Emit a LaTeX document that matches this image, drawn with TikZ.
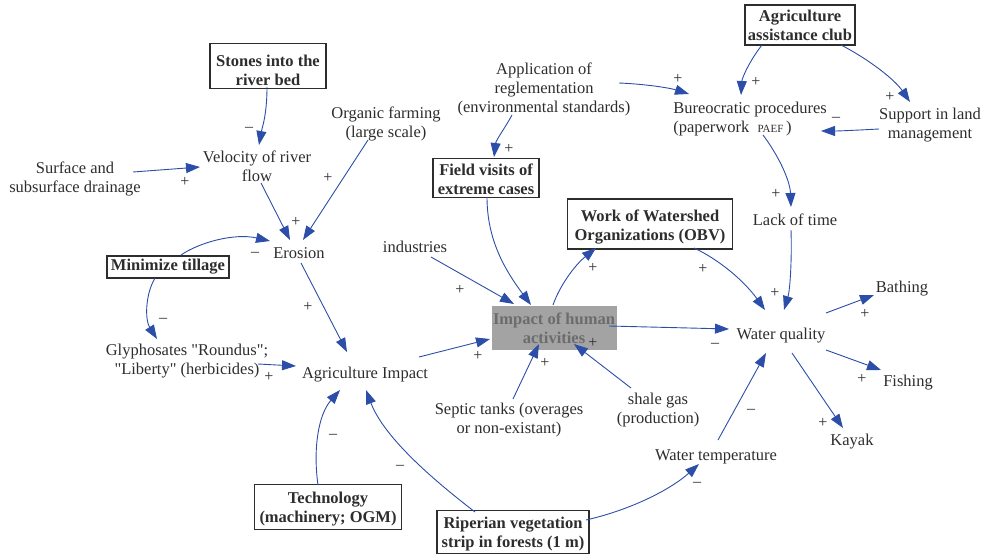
\documentclass[tikz,border=0pt]{standalone}
\usepackage{fontspec}
\setmainfont{Liberation Serif}
\usetikzlibrary{arrows.meta}
\definecolor{linkblue}{RGB}{44,78,168}
\definecolor{ink}{RGB}{45,45,45}
\definecolor{hubfill}{RGB}{163,163,163}
\definecolor{hubtext}{RGB}{108,108,108}
\begin{document}
\begin{tikzpicture}[x=1pt,y=-1pt,
  lbl/.style={align=center, text=ink, inner sep=0pt, font=\fontsize{16.5}{19}\selectfont},
  box/.style={draw=ink, line width=1.1pt, align=center, text=ink, inner sep=2pt,
              font=\fontsize{16.5}{19}\selectfont\bfseries},
  hub/.style={fill=hubfill, align=center, text=hubtext, inner sep=1pt,
              minimum width=125pt, minimum height=44pt,
              font=\fontsize{16.5}{19}\selectfont\bfseries},
  link/.style={draw=linkblue, line width=0.9pt, -{Triangle[length=14pt,width=10pt]}},
  sgn/.style={text=ink, inner sep=0pt, font=\fontsize{16}{16}\selectfont}]
\useasboundingbox (0,0) rectangle (993,554);

% ---- boxed drivers (the struts push the two lines slightly below the box centre) ----
\node[box, minimum width=116pt, minimum height=42pt] (stones) at (268,66) {\rule{0pt}{21pt}Stones into the\\river bed};
\node[box, minimum width=122pt, minimum height=22pt] (mini) at (168,267) {Minimize tillage};
\node[box, minimum width=147pt, minimum height=45pt] (tech) at (328,507) {\rule{0pt}{16pt}Technology\\(machinery; OGM)};
\node[box, minimum width=152pt, minimum height=40pt] (rip) at (513,532) {\rule{0pt}{16pt}Riperian vegetation\\strip in forests (1 m)};
\node[box, minimum width=106pt, minimum height=39pt] (field) at (486,178) {\rule{0pt}{15pt}Field visits of\\extreme cases};
\node[box, minimum width=165pt, minimum height=50pt] (work) at (650,224) {\rule{0pt}{17pt}Work of Watershed\\Organizations (OBV)};
\node[box, minimum width=110pt, minimum height=40pt] (club) at (800,25) {Agriculture\\assistance club};
\node[hub] (impact) at (554,328) {Impact of human\\activities};

% ---- variables ----
\node[lbl] (surf) at (75,179) {Surface and\\subsurface drainage};
\node[lbl] (vel) at (257,166) {Velocity of river\\flow};
\node[lbl] (org) at (386,124) {Organic farming\\(large scale)};
\node[lbl] (ero) at (299,253) {Erosion};
\node[lbl] (glyph) at (187,361) {Glyphosates \textquotedbl Roundus\textquotedbl;\\\textquotedbl Liberty\textquotedbl\ (herbicides)};
\node[lbl] (agimp) at (365,375) {Agriculture Impact};
\node[lbl] (ind) at (415,247) {industries};
\node[lbl] (septic) at (509,420) {Septic tanks (overages\\or non-existant)};
\node[lbl] (shale) at (658,410) {shale gas\\(production)};
\node[lbl] (app) at (544,89) {Application of\\reglementation\\(environmental standards)};
\node[lbl, align=left] (bur) at (750,119) {Bureocratic procedures\\(paperwork\ \ {\fontsize{11}{19}\selectfont PAEF}\,)};
\node[lbl] (sup) at (930,125) {Support in land\\management};
\node[lbl] (lack) at (795,220) {Lack of time};
\node[lbl] (wq) at (781,336) {Water quality};
\node[lbl] (wtemp) at (716,457) {Water temperature};
\node[lbl] (bath) at (902,289) {Bathing};
\node[lbl] (fish) at (908,383) {Fishing};
\node[lbl] (kayak) at (852,442) {Kayak};

% ---- causal links ----
\draw[link] ([shift={(-1,21)}]stones.center) .. controls +(0,28) and +(3,-17) .. ([shift={(2,-21)}]vel.center);
\draw[link] ([shift={(58,-7)}]surf.center) -- ([shift={(-57,1)}]vel.center);
\draw[link] ([shift={(4,17)}]vel.center) -- ([shift={(-9,-13)}]ero.center);
\draw[link] ([shift={(-18,16)}]org.center) -- ([shift={(4,-13)}]ero.center);
\draw[link] ([shift={(13,-12)}]mini.center) .. controls +(19,-13) and +(-35,-8) .. ([shift={(-29,-12)}]ero.center);
\draw[link] ([shift={(-13,11)}]mini.center) .. controls +(-10,17) and +(-12,-19) .. ([shift={(-30,-22)}]glyph.center);
\draw[link] ([shift={(71,3)}]glyph.center) -- ([shift={(-69,-9)}]agimp.center);
\draw[link] ([shift={(2,10)}]ero.center) -- ([shift={(-18,-23)}]agimp.center);
\draw[link] ([shift={(-10,-22)}]tech.center) .. controls +(-5,-35) and +(-22,25) .. ([shift={(-25,15)}]agimp.center);
\draw[link] ([shift={(-38,-20)}]rip.center) .. controls +(-35,-27) and +(19,50) .. ([shift={(1,15)}]agimp.center);
\draw[link] ([shift={(54,-18)}]agimp.center) -- ([shift={(-64,11)}]impact.center);
\draw[link] ([shift={(16,10)}]ind.center) -- ([shift={(-40,-24)}]impact.center);
\draw[link] ([shift={(1,19)}]field.center) .. controls +(0,43) and +(-26,-35) .. ([shift={(-23,-23)}]impact.center);
\draw[link] ([shift={(-1,-23)}]impact.center) .. controls +(7,-20) and +(-21,17) .. ([shift={(-54,24)}]work.center);
\draw[link] ([shift={(4,-21)}]septic.center) -- ([shift={(-15,16)}]impact.center);
\draw[link] ([shift={(-27,-22)}]shale.center) -- ([shift={(20,16)}]impact.center);
\draw[link] ([shift={(55,-2)}]impact.center) -- ([shift={(-52,-7)}]wq.center);
\draw[link] ([shift={(-32,26)}]app.center) .. controls +(-7,13) and +(2,-17) .. ([shift={(8,-21)}]field.center);
\draw[link] ([shift={(75,-6)}]app.center) .. controls +(26,1) and +(-19,-6) .. ([shift={(-61,-25)}]bur.center);
\draw[link] ([shift={(-38,20)}]club.center) .. controls +(-12,15) and +(1,-17) .. ([shift={(-9,-24)}]bur.center);
\draw[link] ([shift={(41,20)}]club.center) .. controls +(29,15) and +(-15,-22) .. ([shift={(-20,-23)}]sup.center);
\draw[link] ([shift={(-51,4)}]sup.center) .. controls +(-19,1) and +(19,0) .. ([shift={(71,12)}]bur.center);
\draw[link] ([shift={(13,16)}]bur.center) .. controls +(15,20) and +(-1,-27) .. ([shift={(-4,-13)}]lack.center);
\draw[link] ([shift={(-4,10)}]lack.center) .. controls +(1,30) and +(6,-20) .. ([shift={(3,-26)}]wq.center);
\draw[link] ([shift={(44,24)}]work.center) .. controls +(26,12) and +(-20,-28) .. ([shift={(-16,-26)}]wq.center);
\draw[link] ([shift={(2,-17)}]wtemp.center) -- ([shift={(-15,17)}]wq.center);
\draw[link] ([shift={(73,-12)}]rip.center) .. controls +(44,-10) and +(-29,26) .. ([shift={(-17,7)}]wtemp.center);
\draw[link] ([shift={(45,-23)}]wq.center) -- ([shift={(-28,6)}]bath.center);
\draw[link] ([shift={(45,14)}]wq.center) -- ([shift={(-27,-13)}]fish.center);
\draw[link] ([shift={(11,17)}]wq.center) -- ([shift={(-9,-14)}]kayak.center);

% ---- link polarities ----
\node[sgn] (p1) at (249,129) {–};
\node[sgn] (p2) at (185,182) {+};
\node[sgn] (p3) at (296,222) {+};
\node[sgn] (p4) at (328,178) {+};
\node[sgn] (p5) at (255,254) {–};
\node[sgn] (p6) at (163,320) {–};
\node[sgn] (p7) at (269,377) {+};
\node[sgn] (p8) at (308,307) {+};
\node[sgn] (p9) at (333,436) {–};
\node[sgn] (p10) at (400,467) {–};
\node[sgn] (p11) at (478,356) {+};
\node[sgn] (p12) at (460,290) {+};
\node[sgn] (p13) at (593,268) {+};
\node[sgn] (p14) at (545,363) {+};
\node[sgn] (p15) at (593,343) {+};
\node[sgn] (p16) at (715,345) {–};
\node[sgn] (p17) at (509,149) {+};
\node[sgn] (p18) at (678,79) {+};
\node[sgn] (p19) at (756,82) {+};
\node[sgn] (p20) at (890,97) {+};
\node[sgn] (p21) at (836,119) {–};
\node[sgn] (p22) at (776,194) {+};
\node[sgn] (p23) at (775,293) {+};
\node[sgn] (p24) at (703,269) {+};
\node[sgn] (p25) at (751,411) {–};
\node[sgn] (p26) at (697,484) {–};
\node[sgn] (p27) at (865,314) {+};
\node[sgn] (p28) at (862,379) {+};
\node[sgn] (p29) at (823,423) {+};
\end{tikzpicture}
\end{document}
